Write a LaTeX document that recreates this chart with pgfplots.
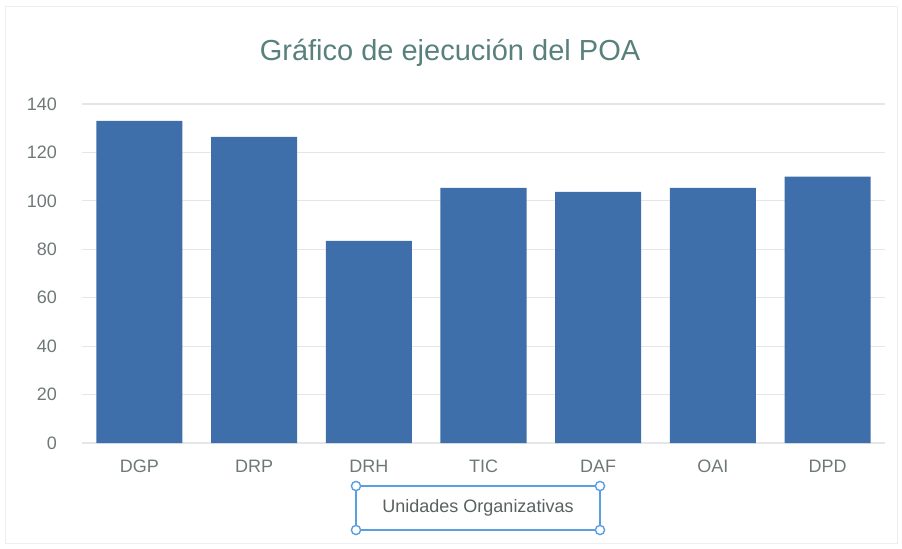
\documentclass[border=0pt]{standalone}
\usepackage{pgfplots}
\pgfplotsset{compat=1.18}
\usepackage{fontspec}
\setmainfont{Liberation Sans}
\definecolor{barblue}{RGB}{62,111,170}
\definecolor{titlecol}{RGB}{88,128,124}
\definecolor{tickcol}{RGB}{110,120,120}
\definecolor{gridcol}{RGB}{228,231,233}
\definecolor{selblue}{RGB}{90,160,225}
\begin{document}
\begin{tikzpicture}
\begin{axis}[
  scale only axis,
  width=401.5pt, height=169.5pt,
  xmin=-0.5, xmax=6.5,
  ymin=0, ymax=140,
  ytick={0,20,...,140},
  xtick=data,
  xticklabels={DGP,DRP,DRH,TIC,DAF,OAI,DPD},
  axis line style={draw=none},
  major tick length=0pt,
  ymajorgrids,
  major grid style={gridcol, line width=0.6pt},
  tick label style={font=\fontsize{9}{10}\selectfont, text=tickcol},
  /pgf/number format/assume math mode=true,
  yticklabel style={xshift=-9pt},
  xticklabel style={yshift=-5pt},
  ybar, bar width=0.75,
  clip=false,
]
\addplot[fill=barblue, draw=none] coordinates {
  (0,133) (1,126.4) (2,83.5) (3,105.4) (4,103.7) (5,105.4) (6,110)
};
\coordinate (bl) at (rel axis cs:0,0);
\coordinate (tr) at (rel axis cs:1,1);
\end{axis}
\path[use as bounding box] ([shift={(-41pt,-52.5pt)}]bl) rectangle ([shift={(8.5pt,52pt)}]tr);
\draw[gridcol!70, line width=0.5pt] ([shift={(-38pt,-50pt)}]bl) rectangle ([shift={(6pt,49pt)}]tr);
\node[text=titlecol, font=\fontsize{14.5}{16}\selectfont] at ([shift={(184pt,195pt)}]bl) {Gráfico de ejecución del POA};
% axis title with selection frame
\coordinate (c) at ([shift={(198pt,-32.5pt)}]bl);
\draw[selblue, line width=0.8pt] ([shift={(-61pt,-11pt)}]c) rectangle ([shift={(61pt,11pt)}]c);
\foreach \dx in {-61pt,61pt}{\foreach \dy in {-11pt,11pt}{
  \draw[selblue, fill=white, line width=0.7pt] ([shift={(\dx,\dy)}]c) circle (2.3pt);}}
\node[text=tickcol!80!black, font=\fontsize{9}{10}\selectfont] at (c) {Unidades Organizativas};
\end{tikzpicture}
\end{document}
